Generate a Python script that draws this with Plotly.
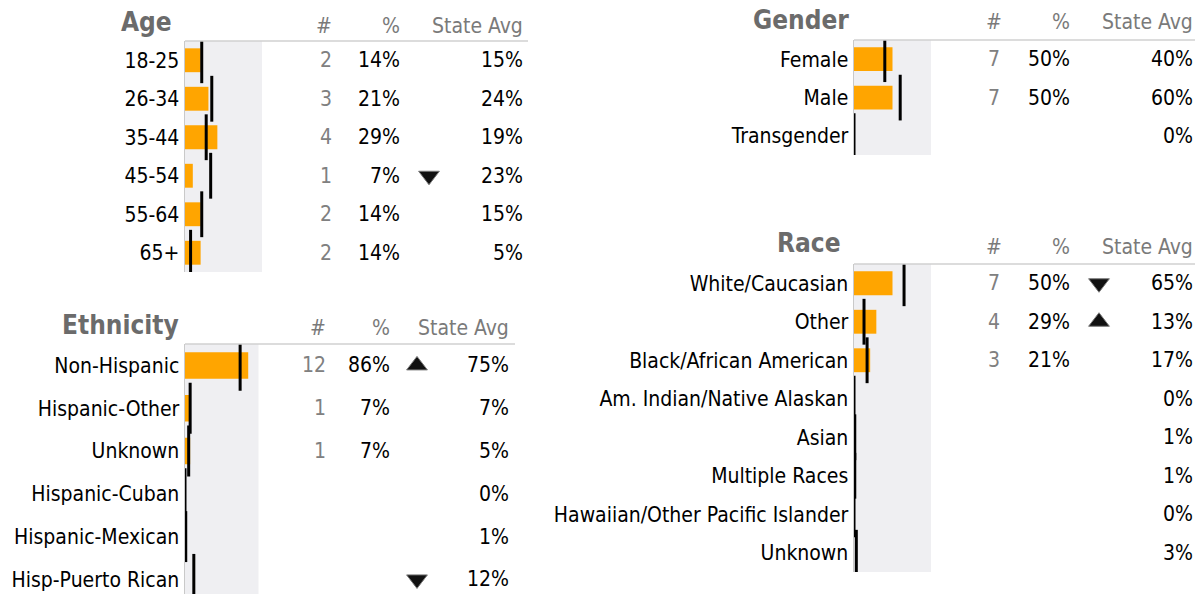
import plotly.graph_objects as go

W, H = 1195, 594
FONT = "DejaVu Sans Condensed, DejaVu Sans, sans-serif"
FS = 21
ORANGE = "#FFA500"
GRAY_BG = "#EFEFF2"
TITLE_C = "#6B6B6B"
HEAD_C = "#7A7A7A"
NUM_C = "#808080"
TXT_C = "#000000"

# ---------------- data ----------------
age_cats = ["18-25", "26-34", "35-44", "45-54", "55-64", "65+"]
age_count = [2, 3, 4, 1, 2, 2]
age_pct = [14, 21, 29, 7, 14, 14]
age_state = [15, 24, 19, 23, 15, 5]
age_flag = ["", "", "", "down", "", ""]

eth_cats = ["Non-Hispanic", "Hispanic-Other", "Unknown", "Hispanic-Cuban",
            "Hispanic-Mexican", "Hisp-Puerto Rican"]
eth_count = [12, 1, 1, None, None, None]
eth_pct = [86, 7, 7, None, None, None]
eth_state = [75, 7, 5, 0, 1, 12]
eth_flag = ["up", "", "", "", "", "down"]

gender_cats = ["Female", "Male", "Transgender"]
gender_count = [7, 7, None]
gender_pct = [50, 50, None]
gender_state = [40, 60, 0]
gender_flag = ["", "", ""]

race_cats = ["White/Caucasian", "Other", "Black/African American",
             "Am. Indian/Native Alaskan", "Asian", "Multiple Races",
             "Hawaiian/Other Pacific Islander", "Unknown"]
race_count = [7, 4, 3, None, None, None, None, None]
race_pct = [50, 29, 21, None, None, None, None, None]
race_state = [65, 13, 17, 0, 1, 1, 0, 3]
race_flag = ["down", "up", "", "", "", "", "", ""]

headers = ["#", "%", "State Avg"]

# ---------------- layout (pixel positions) ----------------
panels = [
    dict(title="Age", cats=age_cats, count=age_count, pct=age_pct, state=age_state, flag=age_flag,
         ax=(185, 262), rng=69, top=41, row=38.5, bottom=272,
         title_x=174, title_y=22, head_y=26, c_num=334, c_num_h=324, c_pct=402,
         c_arrow=429, c_state=525, line_end=528),
    dict(title="Ethnicity", cats=eth_cats, count=eth_count, pct=eth_pct, state=eth_state, flag=eth_flag,
         ax=(185, 258.5), rng=100, top=344, row=42.8, bottom=594,
         title_x=181, title_y=325, head_y=328, c_num=328, c_num_h=318, c_pct=392,
         c_arrow=417, c_state=511, line_end=515),
    dict(title="Gender", cats=gender_cats, count=gender_count, pct=gender_pct, state=gender_state,
         flag=gender_flag, ax=(854, 931), rng=100, top=40, row=38.4, bottom=155,
         title_x=851, title_y=20, head_y=22, c_num=1002, c_num_h=994, c_pct=1072,
         c_arrow=1099, c_state=1195, line_end=1195),
    dict(title="Race", cats=race_cats, count=race_count, pct=race_pct, state=race_state, flag=race_flag,
         ax=(854, 931), rng=100, top=264, row=38.5, bottom=572,
         title_x=843, title_y=243, head_y=247, c_num=1002, c_num_h=994, c_pct=1072,
         c_arrow=1099, c_state=1195, line_end=1195),
]

fig = go.Figure()
layout = dict(width=W, height=H, margin=dict(l=0, r=0, t=0, b=0),
              paper_bgcolor="white", plot_bgcolor="rgba(0,0,0,0)",
              showlegend=False, font=dict(family=FONT, size=FS, color=TXT_C))
shapes, annotations = [], []


def px(x):
    return x / W


def py(y):
    return 1 - y / H


for i, p in enumerate(panels):
    k = i + 1
    xn = "x" if k == 1 else f"x{k}"
    yn = "y" if k == 1 else f"y{k}"
    tn = f"x{k + 4}"
    xkey = "xaxis" if k == 1 else f"xaxis{k}"
    ykey = "yaxis" if k == 1 else f"yaxis{k}"
    tkey = f"xaxis{k + 4}"
    n_vis = (p["bottom"] - p["top"]) / p["row"]

    layout[xkey] = dict(domain=[px(p["ax"][0]), px(p["ax"][1])], range=[0, p["rng"]],
                        visible=False, fixedrange=True, anchor=yn)
    layout[tkey] = dict(domain=[0, 1], range=[0, W], visible=False, fixedrange=True, anchor=yn)
    layout[ykey] = dict(domain=[py(p["bottom"]), py(p["top"])], type="category",
                        categoryorder="array", categoryarray=p["cats"],
                        range=[n_vis - 0.5, -0.5], showgrid=False, zeroline=False,
                        showline=True, linecolor="#C9C9C9", linewidth=1.5, ticks="",
                        ticklabelstandoff=0, tickfont=dict(family=FONT, size=FS, color=TXT_C),
                        fixedrange=True, anchor=xn)

    # gray background
    shapes.append(dict(type="rect", xref=f"{xn} domain", yref=f"{yn} domain", x0=0, x1=1, y0=0, y1=1,
                       fillcolor=GRAY_BG, line=dict(width=0), layer="below"))
    # header rule
    shapes.append(dict(type="line", xref="paper", yref="paper", x0=px(p["ax"][0]), x1=px(p["line_end"]),
                       y0=py(p["top"]), y1=py(p["top"]), line=dict(color="#D0D0D0", width=1.5)))

    # bars
    fig.add_trace(go.Bar(orientation="h", x=p["pct"], y=p["cats"], width=0.62,
                         marker=dict(color=ORANGE, line=dict(width=0)), xaxis=xn, yaxis=yn,
                         hoverinfo="skip"))
    # state-average marks
    fig.add_trace(go.Scatter(mode="markers", x=p["state"], y=p["cats"], xaxis=xn, yaxis=yn,
                             marker=dict(symbol="line-ns", size=p["row"] * 0.85,
                                         line=dict(width=3, color="black")),
                             hoverinfo="skip"))
    # arrows
    for direction, sym in (("down", "triangle-down"), ("up", "triangle-up")):
        ys = [c for c, f in zip(p["cats"], p["flag"]) if f == direction]
        if ys:
            fig.add_trace(go.Scatter(mode="markers", x=[p["c_arrow"]] * len(ys), y=ys,
                                     xaxis=tn, yaxis=yn,
                                     marker=dict(symbol=sym, size=18, color="#111111",
                                                 line=dict(width=1, color="#777777")),
                                     hoverinfo="skip"))

    # title
    annotations.append(dict(xref="paper", yref="paper", x=px(p["title_x"]), y=py(p["title_y"]),
                            xanchor="right", yanchor="middle", showarrow=False,
                            text=f"<b>{p['title']}</b>",
                            font=dict(family=FONT, size=26, color=TITLE_C)))
    # headers
    for txt, cx, anc in zip(headers, [p["c_num_h"], p["c_pct"], p["c_state"]],
                            ["center", "right", "right"]):
        annotations.append(dict(xref="paper", yref="paper", x=px(cx), y=py(p["head_y"]),
                                xanchor=anc, yanchor="middle", showarrow=False, text=txt,
                                font=dict(family=FONT, size=FS, color=HEAD_C)))
    # table values
    for j, cat in enumerate(p["cats"]):
        if p["count"][j] is not None:
            annotations.append(dict(xref="paper", yref=yn, x=px(p["c_num"]), y=j, xanchor="right",
                                    yanchor="middle", showarrow=False, text=str(p["count"][j]),
                                    font=dict(family=FONT, size=FS, color=NUM_C)))
        if p["pct"][j] is not None:
            annotations.append(dict(xref="paper", yref=yn, x=px(p["c_pct"]), y=j, xanchor="right",
                                    yanchor="middle", showarrow=False, text=f"{p['pct'][j]}%",
                                    font=dict(family=FONT, size=FS, color=TXT_C)))
        annotations.append(dict(xref="paper", yref=yn, x=px(p["c_state"]), y=j, xanchor="right",
                                yanchor="middle", showarrow=False, text=f"{p['state'][j]}%",
                                font=dict(family=FONT, size=FS, color=TXT_C)))

layout["shapes"] = shapes
layout["annotations"] = annotations
layout["bargap"] = 0.38
fig.update_layout(**layout)
fig.write_html("out.html", config={"displayModeBar": False, "staticPlot": True},
               post_script="document.body.style.margin='0';document.body.style.overflow='hidden';")
